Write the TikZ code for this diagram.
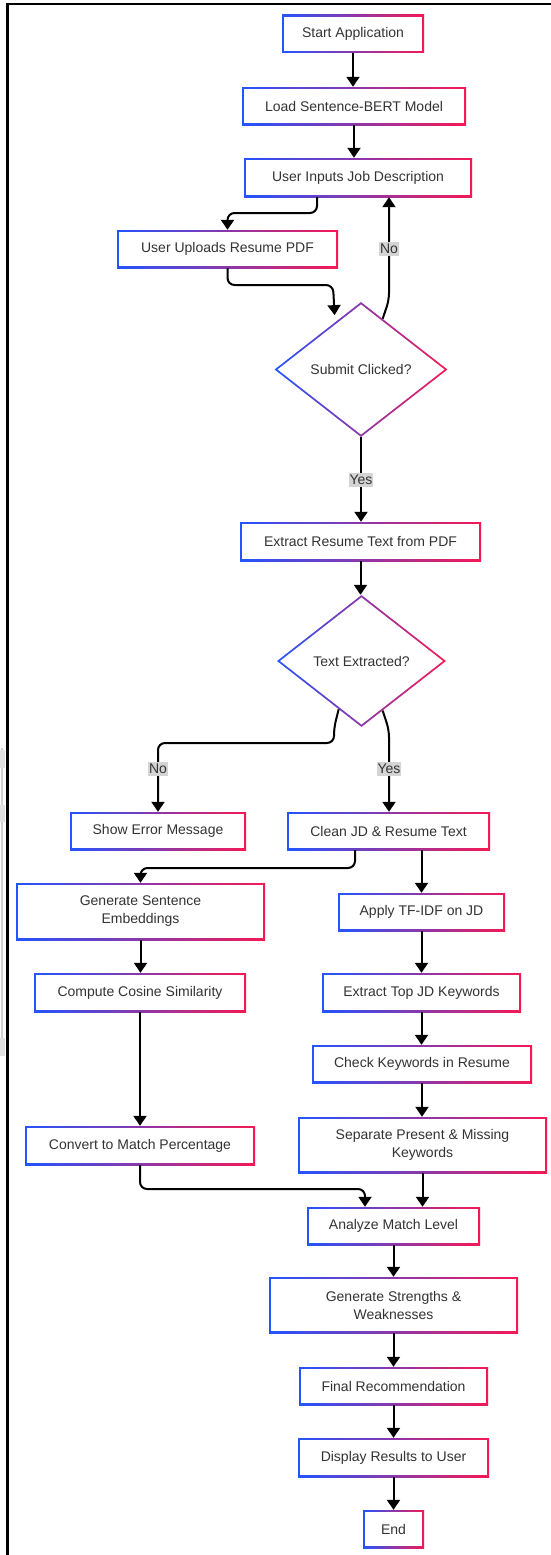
\documentclass[tikz,border=0pt]{standalone}
\usepackage{fontspec}
\setmainfont{Liberation Sans}
\usetikzlibrary{shapes.geometric,arrows.meta,calc}
\definecolor{cblue}{RGB}{35,85,255}
\definecolor{cred}{RGB}{245,25,85}
\definecolor{txt}{RGB}{51,51,51}
\definecolor{labbg}{RGB}{212,212,212}
\newcommand{\bwd}{1.9pt}
\tikzset{
 wh/.style 2 args={minimum width=#1pt, minimum height=#2pt},
 gbox/.style={rectangle, inner sep=0pt, align=center, text=txt,
   font=\fontsize{14}{18}\selectfont, fill=white,
   path picture={
     \shade[left color=cblue, right color=cred] (path picture bounding box.south west) rectangle (path picture bounding box.north east);
     \fill[white] ([shift={(\bwd,\bwd)}]path picture bounding box.south west) rectangle ([shift={(-\bwd,-\bwd)}]path picture bounding box.north east);
   }},
 gdia/.style={diamond, inner sep=0pt, align=center, text=txt,
   font=\fontsize{14}{18}\selectfont, fill=white,
   path picture={
     \shade[left color=cblue, right color=cred] (path picture bounding box.south west) rectangle (path picture bounding box.north east);
     \fill[white] ([xshift=3pt]path picture bounding box.west) -- ([yshift=-2.4pt]path picture bounding box.north) -- ([xshift=-3pt]path picture bounding box.east) -- ([yshift=2.4pt]path picture bounding box.south) -- cycle;
   }},
 arr/.style={draw=black, line width=2pt, -{Triangle[length=10pt,width=13pt]}, rounded corners=7pt},
 lab/.style={fill=labbg, text=txt, inner xsep=1pt, inner ysep=2pt, font=\fontsize{14}{16}\selectfont},
}
\begin{document}
\begin{tikzpicture}[x=1pt,y=-1pt]
\useasboundingbox (0,0) rectangle (551,1555);
% frame
\draw[line width=2.2pt, black] (7.5,1556) -- (7.5,4) -- (552,4);
\draw[line width=1.5pt, black!18] (2,748) -- (2,1056);
\fill[black!12] (0,750) rectangle (5,768);
\fill[black!12] (0,805) rectangle (5,822);
\fill[black!12] (0,1038) rectangle (5,1056);

% nodes
\node[gbox, wh={142}{38}] (start) at (353,34) {Start Application};
\node[gbox, wh={224}{38}] (load) at (354,106) {Load Sentence-BERT Model};
\node[gbox, wh={228}{39}] (jd) at (358,177.5) {User Inputs Job Description};
\node[gbox, wh={221}{38}] (upl) at (227.5,249) {User Uploads Resume PDF};
\node[gdia, wh={173}{135}] (sub) at (361,369.5) {Submit Clicked?};
\node[gbox, wh={241}{39}] (ext) at (360.5,541.5) {Extract Resume Text from PDF};
\node[gdia, wh={169}{132}] (tex) at (361.5,661) {Text Extracted?};
\node[gbox, wh={176}{38}] (err) at (158,831) {Show Error Message};
\node[gbox, wh={203}{38}] (clean) at (388.5,831) {Clean JD \& Resume Text};
\node[gbox, wh={249}{57}] (gen) at (140.5,911.5) {Generate Sentence\\Embeddings};
\node[gbox, wh={167}{38}] (tfidf) at (421.5,912) {Apply TF-IDF on JD};
\node[gbox, wh={212}{39}] (cos) at (140,992.5) {Compute Cosine Similarity};
\node[gbox, wh={199}{39}] (top) at (421.5,992.5) {Extract Top JD Keywords};
\node[gbox, wh={220}{38}] (chk) at (422,1064) {Check Keywords in Resume};
\node[gbox, wh={230}{39}] (conv) at (140,1145.5) {Convert to Match Percentage};
\node[gbox, wh={249}{56}] (sep) at (422.5,1145) {Separate Present \& Missing\\Keywords};
\node[gbox, wh={173}{38}] (ana) at (393.5,1226) {Analyze Match Level};
\node[gbox, wh={249}{56}] (str) at (393.5,1305) {Generate Strengths \&\\Weaknesses};
\node[gbox, wh={189}{38}] (fin) at (393.5,1386) {Final Recommendation};
\node[gbox, wh={191}{39}] (disp) at (393.5,1457.5) {Display Results to User};
\node[gbox, wh={61}{38}] (end) at (393.5,1529) {End};

% bend coordinates
\coordinate (b1) at (317,213);
\coordinate (b2) at (333,285);
\coordinate (b3) at (389,300);
\coordinate (b4) at (334,743);
\coordinate (b4a) at (334,728);
\coordinate (b5) at (389,730);
\coordinate (b6) at (355,868);
\coordinate (b7) at (365,1189);

% connectors
\draw[arr] (start.south) -- (start.south |- load.north);
\draw[arr] (load.south) -- (load.south |- jd.north);
\draw[arr] (b1 |- jd.south) -- (b1) -| (upl.north);
\draw[arr, shorten >=7pt] (upl.south) |- (b2) -- ($(sub.west)!0.7!(sub.north)$);
\draw[arr] ($(sub.north)!0.25!(sub.east)$) -- (b3) -- (b3 |- jd.south);
\draw[arr] (sub.south) -- (sub.south |- ext.north);
\draw[arr] (ext.south) -- (ext.south |- tex.north);
\draw[arr] ($(tex.south)!0.27!(tex.west)$) -- (b4a) -- (b4) -| (err.north);
\draw[arr] ($(tex.south)!0.25!(tex.east)$) -- (b5) -- (b5 |- clean.north);
\draw[arr] (b6 |- clean.south) -- (b6) -| (gen.north);
\draw[arr] (tfidf.north |- clean.south) -- (tfidf.north);
\draw[arr] (gen.south) -- (gen.south |- cos.north);
\draw[arr] (tfidf.south) -- (tfidf.south |- top.north);
\draw[arr] (top.south) -- (top.south |- chk.north);
\draw[arr] (chk.south) -- (chk.south |- sep.north);
\draw[arr] (cos.south) -- (cos.south |- conv.north);
\draw[arr] (conv.south) |- (b7) -- (b7 |- ana.north);
\draw[arr] (sep.south) -- (sep.south |- ana.north);
\draw[arr] (ana.south) -- (ana.south |- str.north);
\draw[arr] (str.south) -- (str.south |- fin.north);
\draw[arr] (fin.south) -- (fin.south |- disp.north);
\draw[arr] (disp.south) -- (disp.south |- end.north);

% labels
\node[lab] (lno1) at (389,249) {No};
\node[lab] (lyes1) at (361,480) {Yes};
\node[lab] (lno2) at (158,769) {No};
\node[lab] (lyes2) at (389,769) {Yes};
\end{tikzpicture}
\end{document}
